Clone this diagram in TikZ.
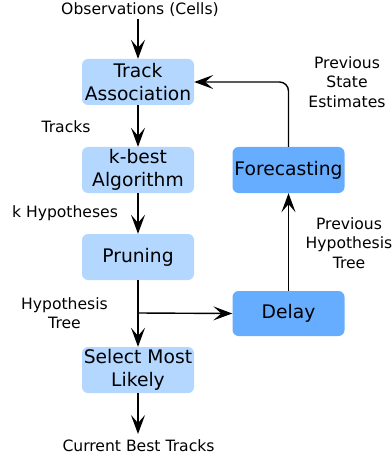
\documentclass[tikz,border=0pt]{standalone}
\usepackage{fontspec}
\setmainfont{DejaVu Sans}
\usetikzlibrary{arrows.meta}
\definecolor{lightbox}{HTML}{B3D7FF}
\definecolor{darkbox}{HTML}{66ADFF}
\begin{document}
\begin{tikzpicture}[x=1pt,y=-1pt,
  proc/.style={rounded corners=6pt,minimum width=112pt,minimum height=46pt,inner sep=0pt,align=center,font=\fontsize{18.7}{22.5}\selectfont,text=black},
  light/.style={proc,fill=lightbox},
  dark/.style={proc,fill=darkbox},
  lbl/.style={align=center,font=\fontsize{15.6}{19.5}\selectfont,inner sep=0pt},
  conn/.style={line width=1.4pt,-{Stealth[length=19pt,width=14pt,inset=8pt]}}]
\useasboundingbox (0,0) rectangle (391,462);
\node[light] (ta) at (138,82) {Track\\Association};
\node[light] (kb) at (138,170) {k-best\\Algorithm};
\node[light] (pr) at (138,257) {Pruning};
\node[light] (sm) at (138,370) {Select Most\\Likely};
\node[dark] (fc) at (288.5,170) {Forecasting};
\node[dark,minimum height=45pt] (dl) at (288.5,313.5) {Delay};
\node[lbl,anchor=base] (obs) at (140,14.5) {Observations (Cells)};
\node[lbl,anchor=base] (cur) at (138.5,451.5) {Current Best Tracks};
\node[lbl] (tr) at (66,127) {Tracks};
\node[lbl] (kh) at (65,213) {k Hypotheses};
\node[lbl] (ht) at (64.5,313) {Hypothesis\\Tree};
\node[lbl] (pse) at (347,82) {Previous\\State\\Estimates};
\node[lbl] (pht) at (349,243) {Previous\\Hypothesis\\Tree};
\coordinate (o1) at (138,19);
\coordinate (c1) at (138,434);
\coordinate (br) at (138,313);
\draw[conn] (o1) -- (ta.north);
\draw[conn] (ta) -- (kb);
\draw[conn] (kb) -- (pr);
\draw[conn] (pr) -- (sm);
\draw[conn] (br) -- (dl.west);
\draw[conn] (sm.south) -- (c1);
\draw[conn] (dl) -- (fc);
\draw[conn,rounded corners=9pt] (fc.north) |- (ta.east);
\end{tikzpicture}
\end{document}
